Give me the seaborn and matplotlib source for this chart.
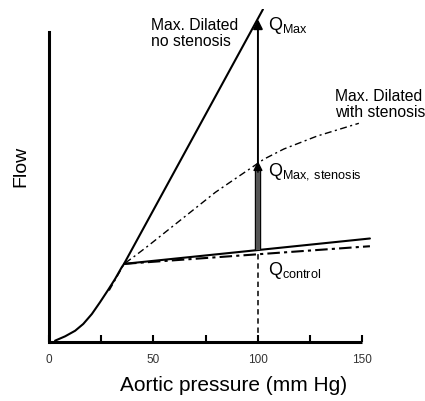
"""Coronary flow vs aortic pressure diagram."""
import matplotlib
matplotlib.use("Agg")
import matplotlib.pyplot as plt
import matplotlib.patheffects as pe
import seaborn as sns

# autoregulation curve (origin to knee)
base_x = [2.9, 7.7, 12.5, 16.4, 20.5, 24.4, 28.4, 31.6, 34.8, 35.9]
base_y = [0.4, 1.8, 3.6, 5.8, 9.0, 12.8, 16.9, 20.3, 24.1, 25.2]

# maximally dilated, no stenosis
steep_x = [35.9, 102.4]
steep_y = [25.2, 107.4]

# control (autoregulated) lines
ctrl_x = [35.9, 153.6]
ctrl_y = [25.2, 33.4]
ctrl_dd_x = [35.9, 153.6]
ctrl_dd_y = [25.2, 30.9]

# maximally dilated, with stenosis
sten_x = [28.8, 33.8, 35.9, 41.2, 47.6, 55.6, 63.6, 71.6, 79.6, 87.6,
          97.2, 102.8, 112.4, 128.4, 148.3]
sten_y = [16.6, 22.6, 25.2, 27.8, 31.1, 35.4, 39.7, 44.0, 48.3, 52.0,
          56.4, 59.0, 62.3, 66.5, 70.6]

# points at 100 mm Hg
p_ref = 100
q_control = 28.3
q_control_solid = 29.7
q_stenosis = 58.4
q_max = 104.2

xticks = [0, 25, 50, 75, 100, 125, 150]
xtick_labels = ["0", "", "50", "", "100", "", "150"]

sns.set_theme(style="white")
plt.rcParams["font.family"] = ["Liberation Sans", "DejaVu Sans"]
plt.rcParams["mathtext.fontset"] = "custom"
plt.rcParams["mathtext.rm"] = "Liberation Sans"
plt.rcParams["text.color"] = "black"
plt.rcParams["axes.labelcolor"] = "black"

fig = plt.figure(figsize=(4.25, 4.02), dpi=100)
ax = fig.add_axes([0.1153, 0.147, 0.762, 0.828])
ax.set_xlim(0, 155)
ax.set_ylim(0, 107.5)

sns.lineplot(x=base_x, y=base_y, ax=ax, color="black", lw=1.5, sort=False)
sns.lineplot(x=steep_x, y=steep_y, ax=ax, color="black", lw=1.5, sort=False)
sns.lineplot(x=ctrl_x, y=ctrl_y, ax=ax, color="black", lw=1.5, sort=False)
sns.lineplot(x=ctrl_dd_x, y=ctrl_dd_y, ax=ax, color="black", lw=1.5,
             linestyle=(0, (6, 2, 1.5, 2)), sort=False)
sns.lineplot(x=sten_x, y=sten_y, ax=ax, color="black", lw=1.0,
             linestyle=(0, (5, 2.5, 1.5, 2.5)), sort=False)

# dashed drop line at 100 mm Hg
ax.plot([p_ref, p_ref], [0, q_control], color="black", lw=1.1,
        linestyle=(0, (3.5, 2.5)))

# thin arrow to Q max
ax.annotate("", xy=(p_ref, q_max), xytext=(p_ref, q_stenosis - 2),
            arrowprops=dict(arrowstyle="-|>", color="black", lw=1.4,
                            mutation_scale=14, shrinkA=0, shrinkB=0))
# thick grey arrow to Q max stenosis
ax.plot([p_ref, p_ref], [q_control_solid, q_stenosis - 3.2], color="#555555",
        lw=3.0, solid_capstyle="butt",
        path_effects=[pe.Stroke(linewidth=4.6, foreground="black"), pe.Normal()])
ax.annotate("", xy=(p_ref, q_stenosis), xytext=(p_ref, q_stenosis - 3.6),
            arrowprops=dict(arrowstyle="-|>", color="black", lw=1.0,
                            mutation_scale=14, shrinkA=0, shrinkB=0))

ax.text(48.8, 105, "Max. Dilated\nno stenosis", fontsize=11.3, va="top",
        ha="left", linespacing=1.1)
ax.text(137, 82, "Max. Dilated\nwith stenosis", fontsize=11.3, va="top",
        ha="left", linespacing=1.1, clip_on=False)
ax.text(104.8, 102.5, r"Q$_{\mathrm{Max}}$", fontsize=13, va="center")
ax.text(104.8, 55.5, r"Q$_{\mathrm{Max,}\,\mathrm{stenosis}}$", fontsize=13,
        va="center")
ax.text(104.8, 23.5, r"Q$_{\mathrm{control}}$", fontsize=13, va="center")

ax.set_xticks(xticks)
ax.set_xticklabels(xtick_labels)
ax.set_yticks([])
ax.tick_params(axis="x", bottom=True, direction="in", length=5, width=1.5,
               pad=8, labelsize=8.5, labelcolor="#333333", color="black")
for side in ["top", "right"]:
    ax.spines[side].set_visible(False)
ax.spines["bottom"].set_bounds(0, 150)
ax.spines["left"].set_bounds(0, 100)
for side in ["bottom", "left"]:
    ax.spines[side].set_linewidth(2.2)
    ax.spines[side].set_color("black")
ax.spines["bottom"].set_capstyle("butt")

ax.set_xlabel("Aortic pressure (mm Hg)", fontsize=15)
ax.xaxis.set_label_coords(0.57, -0.10)
ax.set_ylabel("Flow", fontsize=14)
ax.yaxis.set_label_coords(-0.062, 0.53)

fig.savefig("out.png", dpi=100)
